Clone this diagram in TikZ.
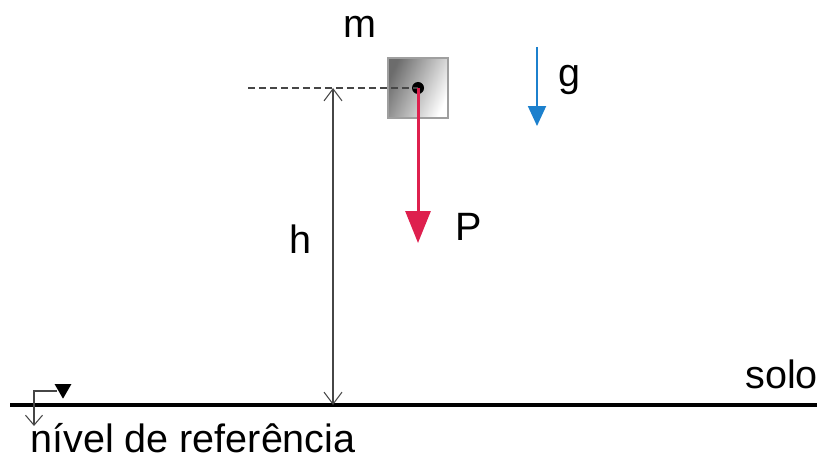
\documentclass[tikz,border=0pt]{standalone}
\usepackage{fontspec}
\setmainfont{Liberation Sans}
\usetikzlibrary{arrows.meta, shapes.geometric}

\definecolor{pesored}{RGB}{222,32,78}
\definecolor{gblue}{RGB}{28,128,205}
\definecolor{linegray}{RGB}{70,70,70}

\begin{document}
\begin{tikzpicture}[
    x=0.02cm, y=-0.02cm,
    lbl/.style={font=\fontsize{22.5}{27}\selectfont, inner sep=0pt, anchor=base west},
    massbox/.style={rectangle, draw=gray!75, line width=1.2pt, minimum size=1.2cm, inner sep=0pt,
                    left color=gray!85!black, right color=white, shading angle=65},
    heightarrow/.style={{Straight Barb[length=2.4mm,width=3.6mm]}-{Straight Barb[length=2.4mm,width=3.6mm]}, draw=linegray, line width=0.6pt},
    weightarrow/.style={-{Triangle[length=6.4mm,width=5mm]}, draw=pesored, line width=1.7pt},
    gravarrow/.style={-{Triangle[length=4mm,width=3.6mm]}, draw=gblue, line width=1.1pt},
]
    \useasboundingbox (0,0) rectangle (817,459);

    % ground
    \coordinate (groundL) at (10,405);
    \coordinate (groundR) at (817,405);
    \draw[line width=1.9pt] (groundL) -- (groundR);

    % block of mass m
    \node[massbox] (block) at (418,88) {};
    \coordinate (cm) at (418,88);
    \fill (cm) circle (6);

    % reference line and height
    \coordinate (dashL) at (248,88);
    \coordinate (hTop) at (333,88);
    \coordinate (hBot) at (333,405);
    \draw[dashed, dash pattern=on 1.4mm off 0.8mm, draw=linegray, line width=0.8pt] (dashL) -- (cm);
    \draw[heightarrow] (hTop) -- (hBot);

    % weight P
    \coordinate (pTip) at (418,243);
    \draw[weightarrow] (cm) -- (pTip);

    % gravity g
    \coordinate (gTop) at (537,47);
    \coordinate (gTip) at (537,126);
    \draw[gravarrow] (gTop) -- (gTip);

    % reference level symbol
    \node[fill, isosceles triangle, isosceles triangle apex angle=60, shape border rotate=-90,
          inner sep=0pt, minimum height=0.29cm] (refmark) at (63,389) {};
    \coordinate (refCorner) at (34,391);
    \coordinate (refEnd) at (34,426);
    \draw[draw=linegray, line width=0.6pt, -{Straight Barb[length=2mm,width=3.4mm]}]
        (refmark.west |- refCorner) -- (refCorner) -- (refEnd);

    % labels
    \node[lbl] (mLabel) at (343,38) {m};
    \node[lbl] (hLabel) at (289,253) {h};
    \node[lbl] (pLabel) at (455,240) {P};
    \node[lbl] (gLabel) at (558,87) {g};
    \node[lbl] (soloLabel) at (745,388) {solo};
    \node[lbl] (refLabel) at (30,452) {nível de referência};
\end{tikzpicture}
\end{document}
